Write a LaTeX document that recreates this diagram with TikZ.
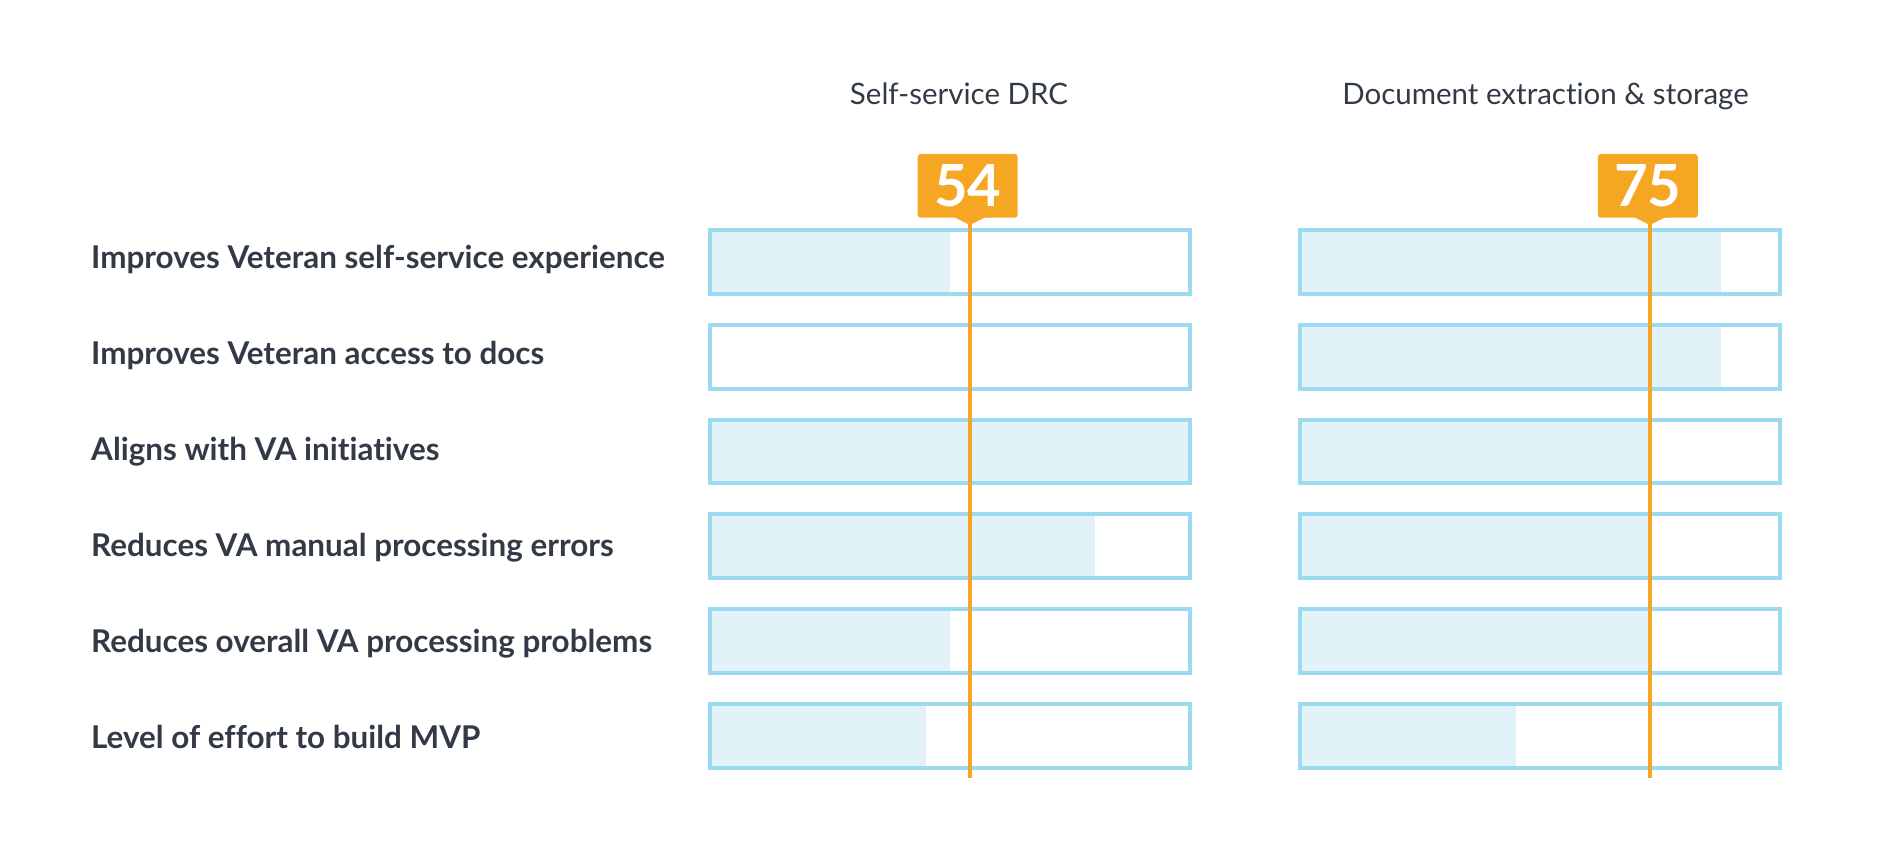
\documentclass[tikz,border=0pt]{standalone}
\usepackage{fontspec}
\setmainfont{Lato}[Ligatures=NoCommon]
\usetikzlibrary{calc}
\definecolor{ink}{HTML}{323A45}
\definecolor{barline}{HTML}{9BDAF1}
\definecolor{barfill}{HTML}{E1F3F8}
\definecolor{markorange}{HTML}{F5A623}
\begin{document}
\begin{tikzpicture}[x=1pt,y=-1pt]
\useasboundingbox (0,0) rectangle (1878,858);
\tikzset{
 lbl/.style={anchor=base west, inner sep=0, text=ink, font=\bfseries\fontsize{31.4}{36}\selectfont},
 ttl/.style={anchor=base, inner sep=0, text=ink, font=\fontsize{29.5}{34}\selectfont},
 bar/.style={draw=barline, line width=4pt, minimum width=480pt, minimum height=63.7pt, inner sep=0, outer sep=0},
 score/.style={fill=markorange, rounded corners=3pt, minimum width=100pt, minimum height=63.7pt, inner sep=0, text=white, font=\bfseries\fontsize{58}{60}\selectfont},
 marker/.style={draw=markorange, line width=4pt},
}
% titles
\node[ttl] (t1) at (959,105) {Self-service DRC};
\node[ttl] (t2) at (1545.5,105) {Document extraction \& storage};
% labels
\foreach \txt [count=\k from 0] in {Improves Veteran self-service experience, Improves Veteran access to docs, Aligns with VA initiatives, Reduces VA manual processing errors, Reduces overall VA processing problems, Level of effort to build MVP}{
  \node[lbl] (l\k) at (91,{269+95.8*\k}) {\txt};
}
% fills column 1
\foreach \f [count=\k from 0] in {950,710,1190,1094.7,950,925.7}{
  \fill[barfill] (710,{230+94.8*\k}) rectangle (\f,{293.7+94.8*\k});
}
% fills column 2
\foreach \f [count=\k from 0] in {1721.3,1721.3,1648.3,1648.3,1648.3,1515.7}{
  \fill[barfill] (1300,{230+94.8*\k}) rectangle (\f,{293.7+94.8*\k});
}
% bars
\foreach \k in {0,...,5}{
  \node[bar] (a\k) at (950,{261.85+94.8*\k}) {};
  \node[bar] (b\k) at (1540,{261.85+94.8*\k}) {};
}
% score boxes
\node[score] (s1) at (967.7,185.85) {54};
\node[score] (s2) at (1647.8,185.85) {75};
\fill[markorange] (954,217) -- (969.8,225) -- (986,217) -- cycle;
\fill[markorange] (1634,217) -- (1649.8,225) -- (1666,217) -- cycle;
% marker lines
\coordinate (m1top) at (969.8,222);
\coordinate (m1bot) at (969.8,777.7);
\coordinate (m2top) at (1649.8,222);
\coordinate (m2bot) at (1649.8,777.7);
\draw[marker] (m1top) -- (m1bot);
\draw[marker] (m2top) -- (m2bot);
\end{tikzpicture}
\end{document}
